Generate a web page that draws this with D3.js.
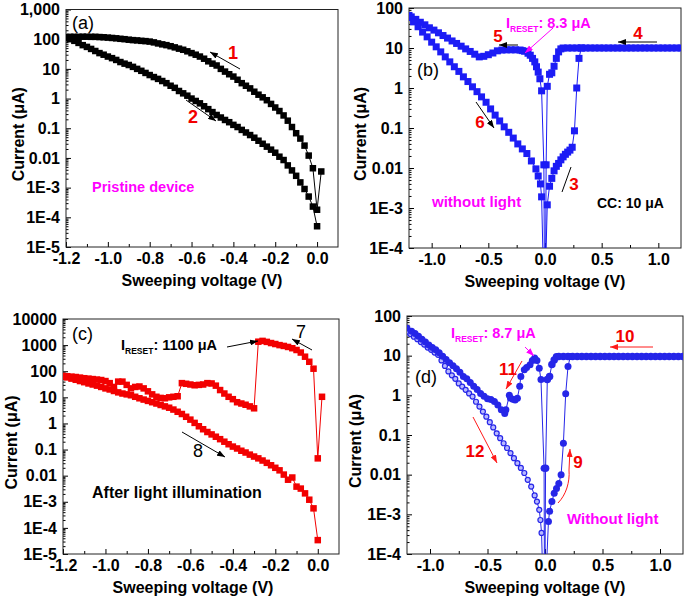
<!DOCTYPE html>
<html>
<head>
<meta charset="utf-8">
<script src="https://cdn.jsdelivr.net/npm/d3@7"></script>
<style>
  body { margin: 0; background: #fff; }
</style>
</head>
<body>
<svg id="fig" width="685" height="599"></svg>
<script>
const FONT = "'Liberation Sans', Arial, Helvetica, sans-serif";

// ---------- tick labels ----------
const xTicksHalf = [-1.2, -1.0, -0.8, -0.6, -0.4, -0.2, 0.0];
const xLabelsHalf = ["-1.2", "-1.0", "-0.8", "-0.6", "-0.4", "-0.2", "0.0"];
const xTicksFull = [-1.0, -0.5, 0.0, 0.5, 1.0];
const xLabelsFull = ["-1.0", "-0.5", "0.0", "0.5", "1.0"];
const yTicksA = [1e-5, 1e-4, 1e-3, 1e-2, 1e-1, 1, 10, 100, 1000];
const yLabelsA = ["1E-5", "1E-4", "1E-3", "0.01", "0.1", "1", "10", "100", "1,000"];
const yTicksC = [1e-5, 1e-4, 1e-3, 1e-2, 1e-1, 1, 10, 100, 1000, 10000];
const yLabelsC = ["1E-5", "1E-4", "1E-3", "0.01", "0.1", "1", "10", "100", "1000", "10000"];
const yTicksB = [1e-4, 1e-3, 1e-2, 1e-1, 1, 10, 100];
const yLabelsB = ["1E-4", "1E-3", "0.01", "0.1", "1", "10", "100"];

// ---------- (a) pristine device, [V, I (uA)] ----------
const aSweep1 = [[0.02,3.5e-3],[0.00,1.8e-4],[-0.02,4.5e-3],[-0.04,0.012],[-0.06,0.026],[-0.08,0.045],[-0.10,0.068],[-0.12,0.11],[-0.14,0.18],[-0.16,0.27],[-0.18,0.38],[-0.20,0.5],[-0.22,0.66],[-0.24,0.88],[-0.26,1.1],[-0.28,1.35],[-0.30,1.7],[-0.32,2.2],[-0.34,2.7],[-0.36,3.3],[-0.38,4.3],[-0.40,5.5],[-0.42,6.6],[-0.44,8.1],[-0.46,10],[-0.48,13],[-0.50,15],[-0.52,18],[-0.54,22],[-0.56,26],[-0.58,30],[-0.60,34],[-0.62,39],[-0.64,44],[-0.66,48],[-0.68,53],[-0.70,58],[-0.72,63],[-0.74,67],[-0.76,72],[-0.78,78],[-0.80,83],[-0.82,86],[-0.84,88],[-0.86,91],[-0.88,93],[-0.90,96],[-0.92,100],[-0.94,103],[-0.96,107],[-0.98,110],[-1.00,113],[-1.02,116],[-1.04,118],[-1.06,120],[-1.08,120],[-1.10,121],[-1.12,121],[-1.14,120],[-1.16,120],[-1.18,120],[-1.20,118]];
const aSweep2 = [[-1.20,110],[-1.18,100],[-1.16,88],[-1.14,75],[-1.12,63],[-1.10,55],[-1.08,47],[-1.06,40],[-1.04,34],[-1.02,30],[-1.00,26],[-0.98,23],[-0.96,20],[-0.94,17],[-0.92,15],[-0.90,13.5],[-0.88,11.7],[-0.86,10],[-0.84,8.6],[-0.82,7.3],[-0.80,6.2],[-0.78,5.3],[-0.76,4.6],[-0.74,3.9],[-0.72,3.3],[-0.70,2.7],[-0.68,2.3],[-0.66,1.8],[-0.64,1.5],[-0.62,1.25],[-0.60,1.0],[-0.58,0.83],[-0.56,0.69],[-0.54,0.55],[-0.52,0.44],[-0.50,0.35],[-0.48,0.28],[-0.46,0.23],[-0.44,0.19],[-0.42,0.16],[-0.40,0.13],[-0.38,0.11],[-0.36,0.088],[-0.34,0.072],[-0.32,0.059],[-0.30,0.048],[-0.28,0.038],[-0.26,0.03],[-0.24,0.024],[-0.22,0.019],[-0.20,0.015],[-0.18,0.011],[-0.16,8.5e-3],[-0.14,5.6e-3],[-0.12,3.8e-3],[-0.10,2.5e-3],[-0.08,1.5e-3],[-0.06,9e-4],[-0.04,5e-4],[-0.02,2.3e-4],[0.00,5e-5]];

// ---------- (b) without light ----------
const bSweep3 = [[0.005,3e-5],[0.02,1.2e-3],[0.04,3.5e-3],[0.06,5.5e-3],[0.08,8.5e-3],[0.10,0.011],[0.12,0.013],[0.14,0.016],[0.16,0.019],[0.18,0.022],[0.20,0.025],[0.22,0.028],[0.24,0.033],[0.26,0.085],[0.28,1.0],[0.30,5.5],[0.32,10]];
const bSweep4 = [[1.20,10],[1.16,10],[1.12,10],[1.08,10],[1.04,10],[1.00,10],[0.96,10],[0.92,10],[0.88,10],[0.84,10],[0.80,10],[0.76,10],[0.72,10],[0.68,10],[0.64,10],[0.60,10],[0.56,10],[0.52,10],[0.48,10],[0.44,10],[0.40,10],[0.36,10],[0.32,10],[0.28,10],[0.24,10],[0.20,10],[0.16,10],[0.14,9.5],[0.12,8],[0.10,5.5],[0.08,3.5],[0.06,2.4],[0.04,2.2],[0.02,1.1],[0.01,0.012],[0.005,3e-5]];
const bSweep5 = [[-0.005,3e-5],[-0.01,0.012],[-0.03,0.85],[-0.045,1.7],[-0.06,2.5],[-0.075,3.4],[-0.09,4.5],[-0.11,5.5],[-0.13,6.6],[-0.15,7.4],[-0.18,8.3],[-0.20,8.6],[-0.22,8.9],[-0.26,9.0],[-0.30,9.0],[-0.34,9.0],[-0.38,8.9],[-0.42,8.5],[-0.46,7.5],[-0.50,6.8],[-0.54,6.2],[-0.58,6.0],[-0.62,7.0],[-0.66,8.2],[-0.70,9.5],[-0.74,11.1],[-0.78,13],[-0.82,15],[-0.86,17.7],[-0.90,20.5],[-0.94,24],[-0.98,28],[-1.02,32],[-1.06,38],[-1.10,44],[-1.14,52],[-1.18,60],[-1.20,65]];
const bSweep6 = [[-1.20,58],[-1.16,45],[-1.12,34],[-1.08,25],[-1.04,19],[-1.00,14],[-0.96,10.7],[-0.92,8.0],[-0.88,6.0],[-0.84,4.5],[-0.80,3.4],[-0.76,2.6],[-0.72,1.9],[-0.68,1.45],[-0.64,1.07],[-0.60,0.81],[-0.56,0.6],[-0.52,0.44],[-0.48,0.30],[-0.44,0.21],[-0.40,0.15],[-0.36,0.107],[-0.32,0.078],[-0.28,0.056],[-0.24,0.04],[-0.20,0.03],[-0.16,0.023],[-0.12,0.015],[-0.08,9.5e-3],[-0.06,6.3e-3],[-0.04,4e-3],[-0.03,1.9e-3],[-0.015,3e-5]];

// ---------- (c) after light illumination ----------
const cSweep7 = [[0.02,10.5],[0.00,0.046],[-0.02,125],[-0.04,230],[-0.06,360],[-0.08,520],[-0.10,650],[-0.12,760],[-0.14,850],[-0.16,930],[-0.18,1000],[-0.20,1100],[-0.22,1200],[-0.24,1330],[-0.26,1450],[-0.28,1350],[-0.30,3.8],[-0.32,4.5],[-0.34,5.2],[-0.36,5.8],[-0.38,6.5],[-0.40,8.5],[-0.42,10.5],[-0.44,14],[-0.46,19],[-0.48,28],[-0.50,34],[-0.52,35],[-0.54,31],[-0.56,30],[-0.58,29],[-0.60,31],[-0.62,33],[-0.64,35],[-0.66,11],[-0.68,10.5],[-0.70,10],[-0.72,9.2],[-0.74,9.5],[-0.76,10.5],[-0.78,13],[-0.80,17],[-0.82,22],[-0.84,26],[-0.86,25],[-0.88,22],[-0.90,30],[-0.92,40],[-0.94,40],[-0.96,25],[-0.98,35],[-1.00,42],[-1.02,46],[-1.04,48],[-1.06,50],[-1.08,52],[-1.10,54],[-1.12,57],[-1.14,60],[-1.16,62],[-1.18,64],[-1.20,66]];
const cSweep8 = [[-1.20,62],[-1.18,58],[-1.16,52],[-1.14,47],[-1.12,42],[-1.10,38],[-1.08,34],[-1.06,31],[-1.04,28],[-1.02,25],[-1.00,22],[-0.98,20],[-0.96,17.5],[-0.94,15.5],[-0.92,14],[-0.90,13],[-0.88,12],[-0.86,10.5],[-0.84,9.2],[-0.82,8.2],[-0.80,7.3],[-0.78,6.5],[-0.76,5.8],[-0.74,5.1],[-0.72,4.5],[-0.70,4.0],[-0.68,3.4],[-0.66,2.8],[-0.64,2.3],[-0.62,1.8],[-0.60,1.4],[-0.58,1.05],[-0.56,0.78],[-0.54,0.6],[-0.52,0.47],[-0.50,0.38],[-0.48,0.31],[-0.46,0.25],[-0.44,0.2],[-0.42,0.16],[-0.40,0.13],[-0.38,0.11],[-0.36,0.09],[-0.34,0.077],[-0.32,0.064],[-0.30,0.054],[-0.28,0.046],[-0.26,0.038],[-0.24,0.031],[-0.22,0.025],[-0.20,0.02],[-0.18,0.016],[-0.16,0.011],[-0.14,7e-3],[-0.12,8.5e-3],[-0.10,3.8e-3],[-0.08,3.2e-3],[-0.06,2.1e-3],[-0.04,1.2e-3],[-0.02,5.6e-4],[0.00,3.4e-5]];

// ---------- (d) without light ----------
const dSweep9 = [[0.01,3e-5],[0.03,6.6e-4],[0.04,1.2e-3],[0.06,2.1e-3],[0.08,3.4e-3],[0.10,4.5e-3],[0.12,6e-3],[0.14,0.01],[0.16,0.062],[0.18,1.1],[0.20,5.3],[0.22,9.5]];
const dSweep10 = [[1.20,9.5],[1.16,9.5],[1.12,9.5],[1.08,9.5],[1.04,9.5],[1.00,9.5],[0.96,9.5],[0.92,9.5],[0.88,9.5],[0.84,9.5],[0.80,9.5],[0.76,9.5],[0.72,9.5],[0.68,9.5],[0.64,9.5],[0.60,9.5],[0.56,9.5],[0.52,9.5],[0.48,9.5],[0.44,9.5],[0.40,9.5],[0.36,9.5],[0.32,9.5],[0.28,9.5],[0.24,9.5],[0.20,9.5],[0.16,9.5],[0.12,9.5],[0.10,9.4],[0.08,7.8],[0.06,6.0],[0.04,3.0],[0.02,2.5],[0.005,0.0145],[0.00,3e-5]];
const dSweep11 = [[-0.005,3e-5],[-0.008,0.0145],[-0.035,2.5],[-0.05,4.8],[-0.07,7.5],[-0.09,8.7],[-0.11,7.5],[-0.13,5.9],[-0.16,5.0],[-0.18,4.4],[-0.21,3.0],[-0.22,1.7],[-0.24,0.85],[-0.26,0.76],[-0.28,0.8],[-0.30,0.85],[-0.31,1.0],[-0.34,0.43],[-0.35,0.35],[-0.38,0.43],[-0.41,0.57],[-0.44,0.7],[-0.47,0.78],[-0.50,0.82],[-0.53,0.95],[-0.56,1.12],[-0.59,1.4],[-0.62,1.7],[-0.65,2.1],[-0.68,2.6],[-0.71,3.0],[-0.74,3.8],[-0.77,4.7],[-0.80,5.6],[-0.83,6.6],[-0.86,8.0],[-0.89,9.6],[-0.92,11.8],[-0.95,14],[-0.98,16],[-1.01,18.6],[-1.04,22],[-1.07,26],[-1.10,31],[-1.13,36],[-1.16,41],[-1.20,49]];
const dSweep12 = [[-1.20,40],[-1.17,35],[-1.14,30],[-1.11,26],[-1.08,22],[-1.05,19],[-1.02,16],[-0.99,14],[-0.96,12],[-0.93,10.5],[-0.90,7.6],[-0.87,5.5],[-0.84,4.0],[-0.81,3.2],[-0.78,2.6],[-0.75,2.0],[-0.72,1.66],[-0.69,1.38],[-0.66,1.12],[-0.63,0.93],[-0.60,0.69],[-0.57,0.52],[-0.54,0.39],[-0.51,0.29],[-0.48,0.21],[-0.45,0.155],[-0.42,0.11],[-0.39,0.083],[-0.36,0.062],[-0.33,0.047],[-0.30,0.035],[-0.27,0.026],[-0.24,0.0195],[-0.21,0.0148],[-0.18,0.011],[-0.15,7.4e-3],[-0.12,5e-3],[-0.09,3e-3],[-0.07,2.1e-3],[-0.05,1.3e-3],[-0.04,7.2e-4],[-0.03,3.4e-4],[-0.02,3e-5]];

const BLACK = "#000000", BLUE = "#1c1cf5", RED = "#f20000", MAGENTA = "#ff00ff", DBLUE = "#2626e8";

const svg = d3.select('#fig');
const defs = svg.append('defs');

// arrow heads
[["black", BLACK], ["red", "#ff1a1a"], ["magenta", MAGENTA]].forEach(([name, col]) => {
    defs.append('marker')
        .attr('id', 'head-' + name)
        .attr('markerUnits', 'userSpaceOnUse')
        .attr('markerWidth', 8).attr('markerHeight', 6)
        .attr('refX', 8).attr('refY', 3)
        .attr('orient', 'auto')
        .append('path')
            .attr('d', 'M0,0 L8,3 L0,6 Z')
            .attr('fill', col);
});

//build one panel: frame, axes, curves
function makePanel(p) {
    const x = d3.scaleLinear().domain(p.xDomain).range(p.xRange);
    const y = d3.scaleLog().domain(p.yDomain).range(p.yRange);
    const g = svg.append('g').attr('font-family', FONT);

    defs.append('clipPath').attr('id', 'clip-' + p.id)
        .append('rect')
            .attr('x', p.xRange[0]).attr('y', p.yRange[1])
            .attr('width', p.xRange[1] - p.xRange[0])
            .attr('height', p.yRange[0] - p.yRange[1]);

    // minor ticks
    g.append('g')
        .attr('transform', `translate(0,${p.yRange[0]})`)
        .call(d3.axisBottom(x).tickValues(p.xMinor).tickFormat('').tickSizeInner(-3).tickSizeOuter(0))
        .call(a => a.select('.domain').remove());
    const yMinor = y.ticks().filter(v => Math.abs(Math.log10(v) - Math.round(Math.log10(v))) > 1e-6);
    g.append('g')
        .attr('transform', `translate(${p.xRange[0]},0)`)
        .call(d3.axisLeft(y).tickValues(yMinor).tickFormat('').tickSizeInner(-2.5).tickSizeOuter(0))
        .call(a => a.select('.domain').remove());

    // major ticks + labels
    g.append('g')
        .attr('transform', `translate(0,${p.yRange[0]})`)
        .call(d3.axisBottom(x).tickValues(p.xTicks).tickFormat((d, i) => p.xLabels[i])
              .tickSizeInner(-5).tickSizeOuter(0).tickPadding(6))
        .call(a => a.select('.domain').remove())
        .call(a => a.selectAll('text').attr('font-family', FONT).attr('font-size', 16)
                    .attr('font-weight', 'bold').attr('fill', '#000'));
    g.append('g')
        .attr('transform', `translate(${p.xRange[0]},0)`)
        .call(d3.axisLeft(y).tickValues(p.yTicks).tickFormat((d, i) => p.yLabels[i])
              .tickSizeInner(-5).tickSizeOuter(0).tickPadding(6))
        .call(a => a.select('.domain').remove())
        .call(a => a.selectAll('text').attr('font-family', FONT).attr('font-size', 16)
                    .attr('font-weight', 'bold').attr('fill', '#000'));

    // frame
    g.append('rect')
        .attr('x', p.xRange[0]).attr('y', p.yRange[1])
        .attr('width', p.xRange[1] - p.xRange[0])
        .attr('height', p.yRange[0] - p.yRange[1])
        .attr('fill', 'none').attr('stroke', '#222').attr('stroke-width', 1);

    // axis titles
    g.append('text')
        .attr('x', (p.xRange[0] + p.xRange[1]) / 2 + p.xTitleShift)
        .attr('y', p.yRange[0] + 39)
        .attr('text-anchor', 'middle').attr('font-size', 16).attr('font-weight', 'bold')
        .text('Sweeping voltage (V)');
    g.append('text')
        .attr('transform', `translate(${p.yTitleX},${(p.yRange[0] + p.yRange[1]) / 2 + 6}) rotate(-90)`)
        .attr('text-anchor', 'middle').attr('font-size', 16).attr('font-weight', 'bold')
        .text('Current (\u03bcA)');

    // curves
    const plot = g.append('g').attr('clip-path', `url(#clip-${p.id})`);
    const line = d3.line().x(d => x(d[0])).y(d => y(d[1]));
    p.series.forEach(s => {
        plot.append('path').datum(s.data)
            .attr('d', line)
            .attr('fill', 'none').attr('stroke', s.color).attr('stroke-width', 1);
    });
    p.series.forEach(s => {
        const m = plot.append('g');
        if (s.shape === 'square') {
            m.selectAll('rect').data(s.data).join('rect')
                .attr('x', d => x(d[0]) - s.size / 2)
                .attr('y', d => y(d[1]) - s.size / 2)
                .attr('width', s.size).attr('height', s.size)
                .attr('fill', s.color);
        } else {
            m.selectAll('circle').data(s.data).join('circle')
                .attr('cx', d => x(d[0])).attr('cy', d => y(d[1]))
                .attr('r', s.size / 2)
                .attr('fill', s.fill || s.color)
                .attr('stroke', s.color).attr('stroke-width', s.fill ? 1.2 : 0);
        }
    });
    return g;
}

const halfMinor = [-1.1, -0.9, -0.7, -0.5, -0.3, -0.1];
const fullMinor = [-0.75, -0.25, 0.25, 0.75];

makePanel({
    id: 'a', xDomain: [-1.2, 0.1], xRange: [66, 338], yDomain: [1e-5, 1000], yRange: [247, 9.5],
    xTicks: xTicksHalf, xLabels: xLabelsHalf, xMinor: halfMinor, yTicks: yTicksA, yLabels: yLabelsA,
    xTitleShift: 0, yTitleX: 24,
    series: [
        { data: aSweep1, color: BLACK, shape: 'square', size: 6.5 },
        { data: aSweep2, color: BLACK, shape: 'square', size: 6.5 }
    ]
});
makePanel({
    id: 'b', xDomain: [-1.2, 1.2], xRange: [409, 681], yDomain: [1e-4, 100], yRange: [248, 8],
    xTicks: xTicksFull, xLabels: xLabelsFull, xMinor: fullMinor, yTicks: yTicksB, yLabels: yLabelsB,
    xTitleShift: 0, yTitleX: 366,
    series: [
        { data: bSweep3, color: BLUE, shape: 'square', size: 7 },
        { data: bSweep4, color: BLUE, shape: 'square', size: 7 },
        { data: bSweep5, color: BLUE, shape: 'square', size: 7 },
        { data: bSweep6, color: BLUE, shape: 'square', size: 7 }
    ]
});
makePanel({
    id: 'c', xDomain: [-1.2, 0.1], xRange: [63, 339], yDomain: [1e-5, 10000], yRange: [554, 319],
    xTicks: xTicksHalf, xLabels: xLabelsHalf, xMinor: halfMinor, yTicks: yTicksC, yLabels: yLabelsC,
    xTitleShift: -8, yTitleX: 17,
    series: [
        { data: cSweep7, color: RED, shape: 'square', size: 6.5 },
        { data: cSweep8, color: RED, shape: 'square', size: 6.5 }
    ]
});
makePanel({
    id: 'd', xDomain: [-1.2, 1.2], xRange: [407, 683], yDomain: [1e-4, 100], yRange: [554, 316],
    xTicks: xTicksFull, xLabels: xLabelsFull, xMinor: fullMinor, yTicks: yTicksB, yLabels: yLabelsB,
    xTitleShift: 0, yTitleX: 361,
    series: [
        { data: dSweep12, color: DBLUE, shape: 'circle', size: 5, fill: '#b8b8ff' },
        { data: dSweep9, color: DBLUE, shape: 'circle', size: 7 },
        { data: dSweep10, color: DBLUE, shape: 'circle', size: 7.5 },
        { data: dSweep11, color: DBLUE, shape: 'circle', size: 7 }
    ]
});

// ---------- annotations ----------
const ann = svg.append('g').attr('font-family', FONT);

function label(x, yb, txt, opts = {}) {
    return ann.append('text')
        .attr('x', x).attr('y', yb)
        .attr('text-anchor', opts.anchor || 'start')
        .attr('font-size', opts.size || 16)
        .attr('font-weight', opts.weight || 'bold')
        .attr('fill', opts.color || '#000')
        .text(txt);
}
function arrow(x1, y1, x2, y2, head, col) {
    ann.append('line')
        .attr('x1', x1).attr('y1', y1).attr('x2', x2).attr('y2', y2)
        .attr('stroke', col).attr('stroke-width', 1)
        .attr('marker-end', head ? `url(#head-${head})` : null);
}
function ireset(x, yb, value, col) {
    const t = ann.append('text').attr('x', x).attr('y', yb)
        .attr('font-size', 14.5).attr('font-weight', 'bold').attr('fill', col);
    t.append('tspan').text('I');
    t.append('tspan').attr('font-size', 8.5).attr('dy', 4).text('RESET');
    t.append('tspan').attr('dy', -4).text(': ' + value);
}

// (a)
label(72, 29, '(a)', { size: 18, weight: 'normal' });
label(233, 59, '1', { color: RED, size: 18, anchor: 'middle' });
arrow(240, 69, 210, 52, 'black', BLACK);
label(193, 123, '2', { color: RED, size: 18, anchor: 'middle' });
arrow(186, 100, 216, 121, 'black', BLACK);
label(92, 192, 'Pristine device', { color: MAGENTA, size: 14.5 });

// (b)
label(417, 76, '(b)', { size: 18, weight: 'normal' });
ireset(506, 28, '8.3 \u03bcA', MAGENTA);
arrow(553, 28, 525, 53, 'magenta', MAGENTA);
label(498, 42, '5', { color: RED, size: 17, anchor: 'middle' });
arrow(518, 45, 499, 45, 'black', BLACK);
label(638, 39, '4', { color: RED, size: 17, anchor: 'middle' });
arrow(657, 42, 618, 42, 'black', BLACK);
label(480, 128, '6', { color: RED, size: 17, anchor: 'middle' });
arrow(476, 102, 494, 128, 'black', BLACK);
label(574, 190, '3', { color: RED, size: 17, anchor: 'middle' });
arrow(562, 192, 571, 167, null, BLACK);
label(432, 207, 'without light', { color: MAGENTA, size: 15 });
label(597, 208, 'CC: 10 \u03bcA', { size: 14 });

// (c)
label(72, 340, '(c)', { size: 18, weight: 'normal' });
ireset(121, 350, '1100 \u03bcA', BLACK);
arrow(227, 347, 258, 341, 'black', BLACK);
label(301, 338, '7', { size: 18, weight: 'normal', anchor: 'middle' });
arrow(312, 350, 292, 339, 'black', BLACK);
label(198, 457, '8', { size: 18, weight: 'normal', anchor: 'middle' });
arrow(182, 432, 225, 457, 'black', BLACK);
label(92, 498, 'After light illumination', { size: 16 });

// (d)
label(415, 383, '(d)', { size: 18, weight: 'normal' });
ireset(451, 338, '8.7 \u03bcA', MAGENTA);
arrow(525, 347, 534, 356, 'magenta', MAGENTA);
label(625, 342, '10', { color: RED, size: 17, anchor: 'middle' });
arrow(653, 347, 610, 347, 'red', '#ff1a1a');
label(508, 375, '11', { color: RED, size: 17, anchor: 'middle' });
arrow(522, 361, 506, 389, 'red', '#ff1a1a');
label(475, 457, '12', { color: RED, size: 17, anchor: 'middle' });
arrow(473, 417, 497, 463, 'red', '#ff1a1a');
label(578, 468, '9', { color: RED, size: 17, anchor: 'middle' });
ann.append('path')
    .attr('d', 'M558,503 C566,495 570,482 569,470 L570,449')
    .attr('fill', 'none').attr('stroke', '#ff1a1a').attr('stroke-width', 1)
    .attr('marker-end', 'url(#head-red)');
label(567, 524, 'Without light', { color: MAGENTA, size: 15 });
</script>
</body>
</html>
